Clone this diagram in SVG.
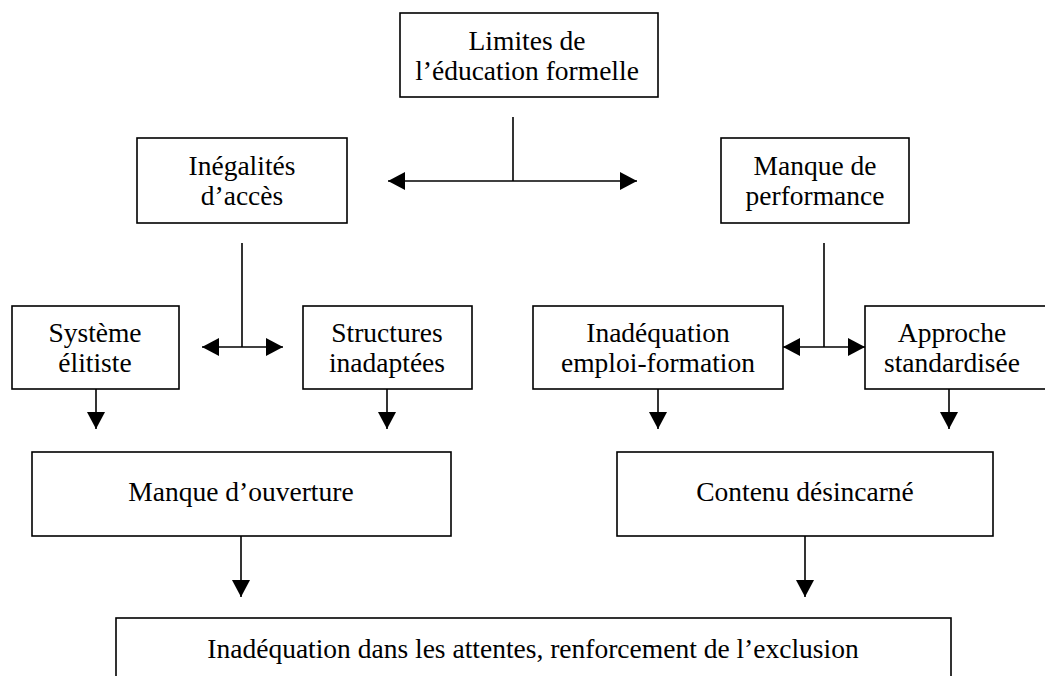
<svg xmlns="http://www.w3.org/2000/svg" width="1045" height="676" viewBox="0 0 1045 676">
<style>
.box{fill:#fff;stroke:#000;stroke-width:1.6}
.t{font-family:"Liberation Serif","Times New Roman",serif;font-size:27.5px;fill:#000;text-anchor:middle}
.c{fill:none;stroke:#000;stroke-width:1.6}
</style>
<defs>
<marker id="ah" viewBox="0 0 17 18" refX="17" refY="9" markerWidth="17" markerHeight="18" markerUnits="userSpaceOnUse" orient="auto-start-reverse">
<path d="M0,0 L17,9 L0,18 Z" fill="#000"/>
</marker>
</defs>
<rect width="1045" height="676" fill="#fff"/>
<g id="connectors">
<line class="c" x1="513" y1="117" x2="513" y2="181"/>
<line class="c" x1="388" y1="181" x2="637" y2="181" marker-start="url(#ah)" marker-end="url(#ah)"/>
<line class="c" x1="242" y1="243" x2="242" y2="347"/>
<line class="c" x1="202" y1="347" x2="283" y2="347" marker-start="url(#ah)" marker-end="url(#ah)"/>
<line class="c" x1="824" y1="243" x2="824" y2="347"/>
<line class="c" x1="783" y1="347" x2="865" y2="347" marker-start="url(#ah)" marker-end="url(#ah)"/>
<line class="c" x1="96" y1="389" x2="96" y2="429" marker-end="url(#ah)"/>
<line class="c" x1="387" y1="389" x2="387" y2="429" marker-end="url(#ah)"/>
<line class="c" x1="658" y1="389" x2="658" y2="429" marker-end="url(#ah)"/>
<line class="c" x1="949" y1="389" x2="949" y2="429" marker-end="url(#ah)"/>
<line class="c" x1="241" y1="536" x2="241" y2="597" marker-end="url(#ah)"/>
<line class="c" x1="805" y1="536" x2="805" y2="597" marker-end="url(#ah)"/>
</g>
<g id="n-limites">
<rect class="box" x="400" y="13" width="258" height="84"/>
<text class="t" x="527" y="50">Limites de</text>
<text class="t" x="527" y="80">l’éducation formelle</text>
</g>
<g id="n-inegalites">
<rect class="box" x="137" y="138" width="210" height="85"/>
<text class="t" x="242" y="175">Inégalités</text>
<text class="t" x="242" y="205">d’accès</text>
</g>
<g id="n-performance">
<rect class="box" x="721" y="138" width="188" height="85"/>
<text class="t" x="815" y="175">Manque de</text>
<text class="t" x="815" y="205">performance</text>
</g>
<g id="n-systeme">
<rect class="box" x="12" y="306" width="167" height="83"/>
<text class="t" x="95" y="342">Système</text>
<text class="t" x="95" y="372">élitiste</text>
</g>
<g id="n-structures">
<rect class="box" x="303" y="306" width="169" height="83"/>
<text class="t" x="387" y="342">Structures</text>
<text class="t" x="387" y="372">inadaptées</text>
</g>
<g id="n-inadequation">
<rect class="box" x="533" y="306" width="250" height="83"/>
<text class="t" x="658" y="342">Inadéquation</text>
<text class="t" x="658" y="372">emploi-formation</text>
</g>
<g id="n-approche">
<rect class="box" x="865" y="306" width="190" height="83"/>
<text class="t" x="952" y="342">Approche</text>
<text class="t" x="952" y="372">standardisée</text>
</g>
<g id="n-ouverture">
<rect class="box" x="32" y="452" width="419" height="84"/>
<text class="t" x="241" y="501">Manque d’ouverture</text>
</g>
<g id="n-contenu">
<rect class="box" x="617" y="452" width="376" height="84"/>
<text class="t" x="805" y="501">Contenu désincarné</text>
</g>
<g id="n-exclusion">
<rect class="box" x="116" y="618" width="835" height="80"/>
<text class="t" x="533" y="658">Inadéquation dans les attentes, renforcement de l’exclusion</text>
</g>
</svg>
